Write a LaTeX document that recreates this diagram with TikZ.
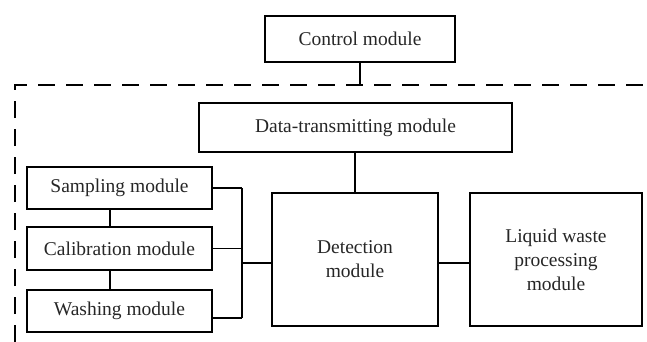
\documentclass[tikz,border=0pt]{standalone}
\usepackage{fontspec}
\setmainfont{Liberation Serif}
\begin{document}
\begin{tikzpicture}[x=1pt,y=-1pt,
  box/.style={draw=black, line width=1.1pt, inner sep=0pt, align=center,
    font=\fontsize{19.5}{24}\selectfont, text=black!85},
  conn/.style={draw=black, line width=1.1pt},
  dashline/.style={draw=black, line width=1.1pt, dash pattern=on 17pt off 11pt}]
\useasboundingbox (0,0) rectangle (647,342);
\node[box, minimum width=190pt, minimum height=46pt] (ctrl) at (360,39) {Control module};
\node[box, minimum width=313pt, minimum height=49pt] (data) at (355.5,127.5) {Data-transmitting module};
\node[box, minimum width=185pt, minimum height=42pt] (samp) at (119.5,188) {Sampling module};
\node[box, minimum width=185pt, minimum height=43pt] (cal) at (119.5,248.5) {Calibration module};
\node[box, minimum width=185pt, minimum height=42pt] (wash) at (119.5,311) {Washing module};
\node[box, minimum width=166pt, minimum height=133pt] (det) at (355,259.5) {Detection\\module};
\node[box, minimum width=172pt, minimum height=133pt] (liq) at (556,259.5) {Liquid waste\\processing\\module};
% dashed boundary
\coordinate (dl) at (15,85);
\coordinate (dr) at (647,85);
\coordinate (db) at (15,342);
\coordinate (dc) at (360,85);
\draw[dashline] (db) -- (dl) -- (dr);
% connectors
\draw[conn] (ctrl.south) -- (dc);
\draw[conn] (data.south -| det.north) -- (det.north);
\draw[conn] ([xshift=-9.5pt]samp.south) -- ([xshift=-9.5pt]cal.north);
\draw[conn] ([xshift=-9.5pt]cal.south) -- ([xshift=-9.5pt]wash.north);
\coordinate (bs) at (242,188);
\coordinate (bc) at (242,248.5);
\coordinate (bw) at (242,318);
\coordinate (bj) at (242,263);
\draw[conn] (samp.east) -- (bs);
\draw[conn] (cal.east) -- (bc);
\draw[conn] (wash.east |- bw) -- (bw);
\draw[conn] (bs) -- (bw);
\draw[conn] (bj) -- (det.west |- bj);
\draw[conn] (det.east |- bj) -- (liq.west |- bj);
\end{tikzpicture}
\end{document}
